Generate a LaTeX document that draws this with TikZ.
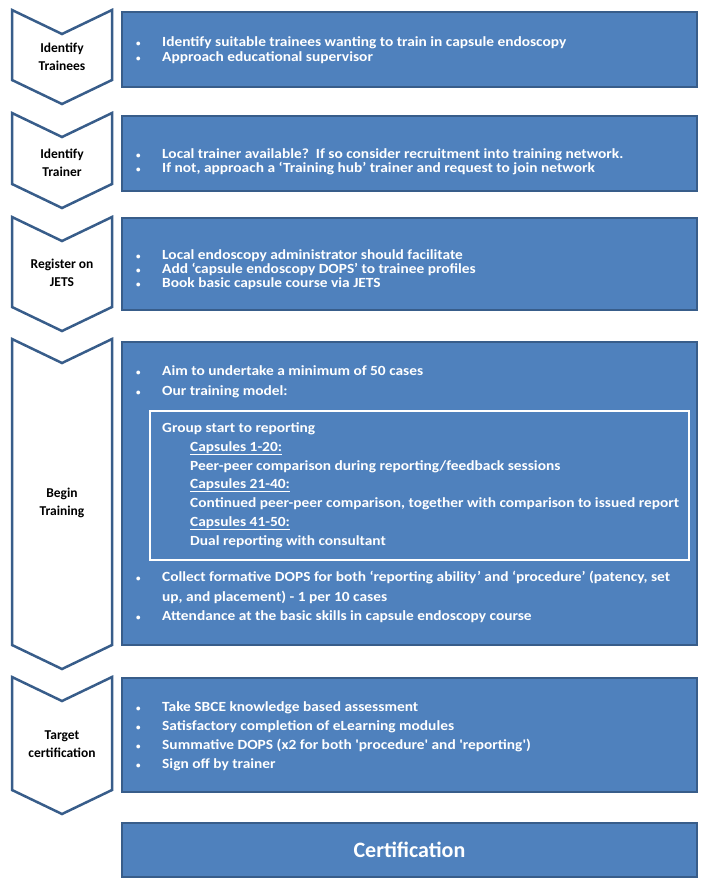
\documentclass[tikz,border=0pt]{standalone}
\usepackage{fontspec}
\setmainfont{Carlito}
\newfontfamily\boxfont{Carlito}[FakeStretch=1.1]
\usetikzlibrary{
    positioning
}
\definecolor{boxblue}{HTML}{4F81BD}
\definecolor{edgeblue}{HTML}{385D8A}

\begin{document}
\begin{tikzpicture}[x=1pt,y=-1pt,
    chev/.style={draw=edgeblue,line width=2.5pt,fill=white,line join=miter},
    stagebox/.style={draw=edgeblue,line width=1.5pt,fill=boxblue,anchor=north west,
        minimum width=575pt,inner sep=0pt,outer sep=0pt},
    lbl/.style={align=center,font=\bfseries\fontsize{13.5}{18}\selectfont,text=black},
    item/.style={anchor=base west,text=white,font=\boxfont\bfseries\fontsize{14}{16}\selectfont,inner sep=0pt},
    dot/.style={item,font=\bfseries\fontsize{9}{9}\selectfont}
]
    \useasboundingbox (0,0) rectangle (702,884);

    % chevrons down the left side
    \foreach \t/\b in {10/80,113/184,217/307,339/645,677/790}
        \draw[chev] (12,\t) -- (62,\t+24) -- (112,\t) -- (112,\b) -- (62,\b+24) -- (12,\b) -- cycle;

    \node[lbl] (lab1) at (62,57) {Identify\\Trainees};
    \node[lbl] (lab2) at (62,163) {Identify\\Trainer};
    \node[lbl] (lab3) at (62,273) {Register on\\JETS};
    \node[lbl] (lab4) at (62,503) {Begin\\Training};
    \node[lbl] (lab5) at (62,744) {Target\\certification};

    % blue boxes
    \node[stagebox,minimum height=75pt] (box1) at (122,12) {};
    \node[stagebox,minimum height=75pt] (box2) at (122,116) {};
    \node[stagebox,minimum height=92pt] (box3) at (122,218) {};
    \node[stagebox,minimum height=303pt] (box4) at (122,342) {};
    \node[stagebox,minimum height=114pt] (box5) at (122,678) {};
    \node[stagebox,minimum height=54pt] (box6) at (122,823) {};

    \draw[white,line width=2pt] (150,411) rectangle (689,560);

    % bullets
    \foreach \y in {46,61,158,172,259,273,287,375,395,581,620,711,730,749,768}
        \node[dot] at (136,\y) {\textbullet};

    \node[item] (t11) at (162,46) {Identify suitable trainees wanting to train in capsule endoscopy};
    \node[item] (t12) at (162,61) {Approach educational supervisor};

    \node[item] (t21) at (162,158) {Local trainer available?\ \ If so consider recruitment into training network.};
    \node[item] (t22) at (162,172) {If not, approach a ‘Training hub’ trainer and request to join network};

    \node[item] (t31) at (162,259) {Local endoscopy administrator should facilitate};
    \node[item] (t32) at (162,273) {Add ‘capsule endoscopy DOPS’ to trainee profiles};
    \node[item] (t33) at (162,287) {Book basic capsule course via JETS};

    \node[item] (t41) at (162,375) {Aim to undertake a minimum of 50 cases};
    \node[item] (t42) at (162,395) {Our training model:};
    \node[item] (t43) at (162,432) {Group start to reporting};
    \node[item] (t44) at (190,451) {\underline{Capsules 1-20:}};
    \node[item] (t45) at (190,470) {Peer-peer comparison during reporting/feedback sessions};
    \node[item] (t46) at (190,488) {\underline{Capsules 21-40:}};
    \node[item] (t47) at (190,507) {Continued peer-peer comparison, together with comparison to issued report};
    \node[item] (t48) at (190,526) {\underline{Capsules 41-50:}};
    \node[item] (t49) at (190,545) {Dual reporting with consultant};
    \node[item] (t410) at (162,581) {Collect formative DOPS for both ‘reporting ability’ and ‘procedure’ (patency, set};
    \node[item] (t411) at (162,601) {up, and placement) - 1 per 10 cases};
    \node[item] (t412) at (162,620) {Attendance at the basic skills in capsule endoscopy course};

    \node[item] (t51) at (162,711) {Take SBCE knowledge based assessment};
    \node[item] (t52) at (162,730) {Satisfactory completion of eLearning modules};
    \node[item] (t53) at (162,749) {Summative DOPS (x2 for both 'procedure' and 'reporting')};
    \node[item] (t54) at (162,768) {Sign off by trainer};

    \node[text=white,font=\bfseries\fontsize{22}{26}\selectfont] (cert) at (box6.center) {Certification};
\end{tikzpicture}
\end{document}
